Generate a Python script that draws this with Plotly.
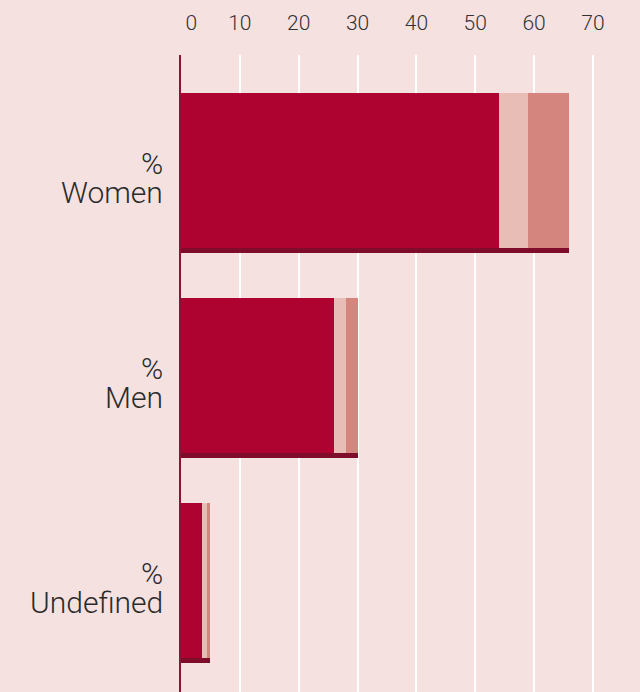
import plotly.graph_objects as go

categories = ["Women", "Men", "Undefined"]
label_prefix = "%"
seg_dark = [54, 26, 3.6]
seg_light = [5, 2, 0.8]
seg_mid = [7, 2, 0.5]
x_ticks = [0, 10, 20, 30, 40, 50, 60, 70]
x_tick_text = ["\u00a0\u00a0\u00a0\u00a00", "10", "20", "30", "40", "50", "60", "70"]

pos = list(range(len(categories)))
totals = [a + b + c for a, b, c in zip(seg_dark, seg_light, seg_mid)]
base_light = seg_dark
base_mid = [a + b for a, b in zip(seg_dark, seg_light)]

BAR_OFF = -0.390
BAR_W = 0.756
LINE_OFF = 0.366
LINE_W = 0.026

fig = go.Figure()
for vals, base, col in [
    (seg_dark, [0, 0, 0], "#AE0230"),
    (seg_light, base_light, "#E8BDB5"),
    (seg_mid, base_mid, "#D3857E"),
]:
    fig.add_trace(go.Bar(
        y=pos, x=vals, base=base, orientation="h",
        width=BAR_W, offset=BAR_OFF, marker=dict(color=col, line=dict(width=0)),
        showlegend=False, hoverinfo="skip"))

fig.add_trace(go.Bar(
    y=pos, x=totals, base=[0, 0, 0], orientation="h",
    width=LINE_W, offset=LINE_OFF, marker=dict(color="#7E0C2A", line=dict(width=0)),
    showlegend=False, hoverinfo="skip"))

label_font = dict(family="Roboto", size=30, color="#2B2B2B", weight=300)
for p, name in zip(pos, categories):
    fig.add_annotation(x=0, xref="paper", y=p - 0.048, yref="y", text=label_prefix,
                       xanchor="right", yanchor="middle", xshift=-16,
                       showarrow=False, font=label_font)
    fig.add_annotation(x=0, xref="paper", y=p + 0.095, yref="y", text=name,
                       xanchor="right", yanchor="middle", xshift=-16,
                       showarrow=False, font=label_font)

fig.update_layout(
    width=640, height=692,
    margin=dict(l=181, r=0, t=55, b=0),
    paper_bgcolor="#F5E1DF", plot_bgcolor="#F5E1DF",
    barmode="overlay", bargap=0,
    font=dict(family="Roboto", color="#2B2B2B"),
    xaxis=dict(
        side="top", range=[0, 78], tickvals=x_ticks, ticktext=x_tick_text,
        showgrid=True, gridcolor="#FFFFFF", gridwidth=2,
        zeroline=False, showline=False, ticks="",
        ticklabelstandoff=20,
        tickfont=dict(family="Roboto", size=21, color="#333333", weight=300),
        fixedrange=True,
    ),
    yaxis=dict(
        range=[2.5317, -0.5756], tickvals=pos, showticklabels=False,
        showgrid=False, zeroline=False,
        showline=True, linecolor="#8A1437", linewidth=2,
        ticks="", fixedrange=True,
    ),
)

fig.write_html("out.html", config={"displayModeBar": False},
               post_script="document.body.style.margin='0';document.body.style.background='#F5E1DF';")
